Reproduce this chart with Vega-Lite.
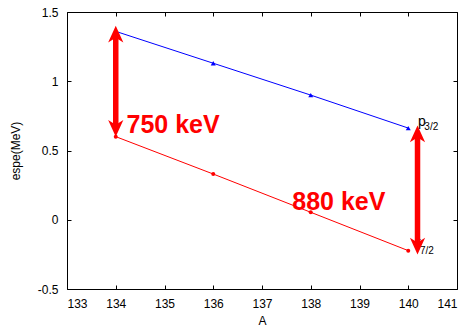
{
  "$schema": "https://vega.github.io/schema/vega-lite/v6.json",
  "width": 390,
  "height": 277,
  "autosize": {"type": "none"},
  "padding": {"left": 67, "top": 12, "right": 12, "bottom": 38},
  "background": "white",
  "config": {
    "view": {"stroke": null},
    "font": "Liberation Sans",
    "axis": {
      "grid": false,
      "domainColor": "black",
      "domainWidth": 1,
      "tickColor": "black",
      "tickWidth": 1,
      "tickSize": -4,
      "labelFont": "Liberation Sans",
      "labelFontSize": 12,
      "labelColor": "black",
      "titleFont": "Liberation Sans",
      "titleFontSize": 12,
      "titleFontWeight": "normal",
      "titleColor": "black"
    }
  },
  "datasets": {
    "series": [
      {"A": 134, "espe": 1.36, "state": "p3/2"},
      {"A": 136, "espe": 1.13, "state": "p3/2"},
      {"A": 138, "espe": 0.90, "state": "p3/2"},
      {"A": 140, "espe": 0.662, "state": "p3/2"},
      {"A": 134, "espe": 0.60, "state": "f7/2"},
      {"A": 136, "espe": 0.33, "state": "f7/2"},
      {"A": 138, "espe": 0.054, "state": "f7/2"},
      {"A": 140, "espe": -0.223, "state": "f7/2"}
    ],
    "arrows": [
      {"A": 134.0, "lo": 0.60, "hi": 1.40},
      {"A": 140.19, "lo": -0.25, "hi": 0.68}
    ],
    "gaps": [
      {"A": 134.22, "espe": 0.624, "text": "750 keV"},
      {"A": 137.62, "espe": 0.07, "text": "880 keV"}
    ],
    "mainLetters": [
      {"A": 140.2, "espe": 0.677, "text": "p"},
      {"A": 140.17, "espe": -0.218, "text": "f"}
    ],
    "subscripts": [
      {"A": 140.33, "espe": 0.648, "text": "3/2"},
      {"A": 140.24, "espe": -0.248, "text": "7/2"}
    ]
  },
  "layer": [
    {
      "data": {"name": "series"},
      "mark": {"type": "line", "strokeWidth": 1},
      "encoding": {
        "x": {
          "field": "A", "type": "quantitative",
          "scale": {"domain": [133, 141], "nice": false, "zero": false},
          "axis": {"orient": "bottom", "title": "A", "values": [133,134,135,136,137,138,139,140,141], "format": "d", "labelPadding": 13, "titlePadding": 6}
        },
        "y": {
          "field": "espe", "type": "quantitative",
          "scale": {"domain": [-0.5, 1.5], "nice": false, "zero": false},
          "axis": {"orient": "left", "title": "espe(MeV)", "values": [-0.5, 0, 0.5, 1, 1.5], "labelExpr": "'' + datum.value", "labelPadding": 13, "titlePadding": 15}
        },
        "color": {"field": "state", "type": "nominal", "scale": {"domain": ["p3/2", "f7/2"], "range": ["#0000ff", "#ff0000"]}, "legend": null},
        "detail": {"field": "state"}
      }
    },
    {
      "data": {"name": "series"},
      "mark": {"type": "point", "filled": true, "opacity": 1},
      "encoding": {
        "x": {
          "field": "A", "type": "quantitative",
          "axis": {"orient": "top", "title": null, "labels": false, "values": [133,134,135,136,137,138,139,140,141]}
        },
        "y": {
          "field": "espe", "type": "quantitative",
          "axis": {"orient": "right", "title": null, "labels": false, "values": [-0.5, 0, 0.5, 1, 1.5]}
        },
        "color": {"field": "state", "type": "nominal", "legend": null},
        "shape": {"field": "state", "type": "nominal", "scale": {"domain": ["p3/2", "f7/2"], "range": ["triangle-up", "circle"]}, "legend": null},
        "size": {"field": "state", "type": "nominal", "scale": {"domain": ["p3/2", "f7/2"], "range": [25, 16]}, "legend": null}
      }
    },
    {
      "data": {"name": "mainLetters"},
      "mark": {"type": "text", "align": "left", "baseline": "alphabetic", "fontSize": 14, "color": "black", "font": "Liberation Sans"},
      "encoding": {
        "x": {"field": "A", "type": "quantitative", "axis": null},
        "y": {"field": "espe", "type": "quantitative", "axis": null},
        "text": {"field": "text"}
      }
    },
    {
      "data": {"name": "subscripts"},
      "mark": {"type": "text", "align": "left", "baseline": "alphabetic", "fontSize": 10, "color": "black", "font": "Liberation Sans"},
      "encoding": {
        "x": {"field": "A", "type": "quantitative", "axis": null},
        "y": {"field": "espe", "type": "quantitative", "axis": null},
        "text": {"field": "text"}
      }
    },
    {
      "data": {"name": "arrows"},
      "mark": {"type": "rule", "color": "#ff0000", "strokeWidth": 5.5, "yOffset": -10, "y2Offset": 10},
      "encoding": {
        "x": {"field": "A", "type": "quantitative", "axis": null},
        "y": {"field": "lo", "type": "quantitative", "axis": null},
        "y2": {"field": "hi"}
      }
    },
    {
      "data": {"name": "arrows"},
      "mark": {"type": "point", "filled": true, "opacity": 1, "color": "#ff0000", "strokeWidth": 0, "size": 256, "yOffset": 8.3, "shape": "M0,-1.04 L0.95,1.04 L0,0.46 L-0.95,1.04 Z"},
      "encoding": {
        "x": {"field": "A", "type": "quantitative", "axis": null},
        "y": {"field": "hi", "type": "quantitative", "axis": null}
      }
    },
    {
      "data": {"name": "arrows"},
      "mark": {"type": "point", "filled": true, "opacity": 1, "color": "#ff0000", "strokeWidth": 0, "size": 256, "yOffset": -8.3, "shape": "M0,1.04 L0.95,-1.04 L0,-0.46 L-0.95,-1.04 Z"},
      "encoding": {
        "x": {"field": "A", "type": "quantitative", "axis": null},
        "y": {"field": "lo", "type": "quantitative", "axis": null}
      }
    },
    {
      "data": {"name": "gaps"},
      "mark": {"type": "text", "align": "left", "baseline": "alphabetic", "fontSize": 25, "fontWeight": "bold", "color": "#ff0000", "font": "Liberation Sans"},
      "encoding": {
        "x": {"field": "A", "type": "quantitative", "axis": null},
        "y": {"field": "espe", "type": "quantitative", "axis": null},
        "text": {"field": "text"}
      }
    }
  ],
  "resolve": {"axis": {"x": "independent", "y": "independent"}}
}
